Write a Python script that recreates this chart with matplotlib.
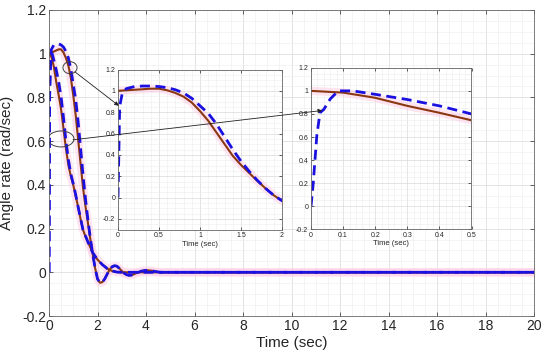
import matplotlib
matplotlib.use('Agg')
import matplotlib.pyplot as plt
from matplotlib.patches import Ellipse, ConnectionPatch
from matplotlib.ticker import MultipleLocator, FuncFormatter

plt.rcParams['font.family'] = ['Liberation Sans', 'DejaVu Sans']

# curve A: fast decay, smooth tail (brown = response, blue dashed = estimate)
t_a = [0, 0.1, 0.2, 0.3, 0.4, 0.5, 0.6, 0.7, 0.8, 0.9, 1.0, 1.1, 1.2, 1.3, 1.4,
       1.5, 1.6, 1.7, 1.8, 1.9, 2.0, 2.2, 2.4, 2.6, 2.8, 3.0, 20]
y_a = [1.0, 0.985, 0.94, 0.87, 0.81, 0.745, 0.655, 0.565, 0.49, 0.44, 0.40, 0.35,
       0.30, 0.245, 0.195, 0.165, 0.14, 0.115, 0.09, 0.072, 0.058, 0.035, 0.017,
       0.006, 0.001, 0.0, 0.0]
t_a_est = [0, 0.007, 0.018, 0.028, 0.04, 0.06, 0.085, 0.13, 0.2, 0.3, 0.4, 0.5,
           0.6, 0.7, 0.8, 0.9, 1.0, 1.1, 1.2, 1.4, 1.6, 1.8, 2.0, 2.2, 2.4, 2.6,
           2.8, 3.0, 20]
y_a_est = [0.0, 0.2, 0.61, 0.81, 0.84, 0.93, 1.0, 1.0, 0.97, 0.925, 0.87, 0.80,
           0.705, 0.6, 0.515, 0.45, 0.405, 0.355, 0.30, 0.195, 0.14, 0.09, 0.058,
           0.035, 0.017, 0.006, 0.001, 0.0, 0.0]

# curve B: delayed decay with oscillation
t_b = [0, 0.1, 0.2, 0.3, 0.4, 0.5, 0.6, 0.7, 0.8, 0.9, 1.0, 1.1, 1.2, 1.3, 1.4,
       1.5, 1.6, 1.7, 1.8, 1.9, 2.0, 2.1, 2.2, 2.3, 2.4, 2.5, 2.6, 2.7, 2.8, 2.9,
       3.0, 3.1, 3.2, 3.3, 3.4, 3.5, 3.6, 3.8, 4.0, 4.2, 4.4, 4.6, 5.0, 20]
y_b = [1.0, 1.005, 1.01, 1.015, 1.02, 1.02, 1.005, 0.98, 0.945, 0.89, 0.81, 0.72,
       0.61, 0.50, 0.39, 0.305, 0.23, 0.155, 0.085, 0.02, -0.03, -0.048, -0.045,
       -0.03, -0.008, 0.012, 0.025, 0.03, 0.028, 0.018, 0.006, -0.004, -0.011,
       -0.014, -0.013, -0.009, -0.004, 0.005, 0.009, 0.008, 0.003, 0.0, 0.0, 0.0]
t_b_est = [0, 0.01, 0.02, 0.05, 0.1, 0.2, 0.3, 0.4, 0.5, 0.6, 0.7, 0.8, 0.9, 1.0,
           1.1, 1.2, 1.3, 1.4, 1.5, 1.6, 1.7, 1.8, 1.9, 2.0, 2.1, 2.2, 2.3, 2.4,
           2.5, 2.6, 2.7, 2.8, 2.9, 3.0, 3.1, 3.2, 3.3, 3.4, 3.5, 3.6, 3.8, 4.0,
           4.2, 4.4, 4.6, 5.0, 20]
y_b_est = [0.0, 0.4, 0.85, 0.97, 1.02, 1.04, 1.045, 1.045, 1.04, 1.03, 1.01, 0.98,
           0.93, 0.86, 0.79, 0.69, 0.57, 0.45, 0.34, 0.245, 0.16, 0.085, 0.02,
           -0.03, -0.048, -0.045, -0.03, -0.008, 0.012, 0.025, 0.03, 0.028, 0.018,
           0.006, -0.004, -0.011, -0.014, -0.013, -0.009, -0.004, 0.005, 0.009,
           0.008, 0.003, 0.0, 0.0, 0.0]

brown = '#8a3810'
blue = '#1a10e0'
pink = '#ffcce6'

fmt = FuncFormatter(lambda v, p: '%g' % round(v, 3))


def style_axes(ax, fs, xmaj, xmin, ymaj, ymin, ticklen):
    ax.xaxis.set_major_locator(MultipleLocator(xmaj))
    ax.xaxis.set_minor_locator(MultipleLocator(xmin))
    ax.yaxis.set_major_locator(MultipleLocator(ymaj))
    ax.yaxis.set_minor_locator(MultipleLocator(ymin))
    ax.xaxis.set_major_formatter(fmt)
    ax.yaxis.set_major_formatter(fmt)
    ax.grid(which='major', color='#d9d9d9', lw=0.5)
    ax.grid(which='minor', color='#ececec', lw=0.4)
    ax.set_axisbelow(True)
    ax.tick_params(which='major', direction='in', top=True, right=True,
                   length=ticklen, width=0.5, labelsize=fs, colors='#262626',
                   pad=2)
    ax.tick_params(which='minor', length=0)
    for s in ax.spines.values():
        s.set_color('#666666')
        s.set_linewidth(0.6)


def draw_curves(ax, curves, lw_b, lw_d, pw):
    for t, y, te, ye in curves:
        ax.plot(t, y, color=pink, lw=pw, alpha=0.5, solid_capstyle='butt')
    for t, y, te, ye in curves:
        ax.plot(t, y, color=brown, lw=lw_b)
    for t, y, te, ye in curves:
        ax.plot(te, ye, color=blue, lw=lw_d, ls='--', dashes=(3.6, 2.0))


curve_a = (t_a, y_a, t_a_est, y_a_est)
curve_b = (t_b, y_b, t_b_est, y_b_est)

fig = plt.figure(figsize=(5.5, 3.59), dpi=100)

# main axes
ax = fig.add_axes([49 / 550, 43 / 359, 485 / 550, 306 / 359])
draw_curves(ax, [curve_a, curve_b], 1.5, 2.0, 6)
ax.set_xlim(0, 20)
ax.set_ylim(-0.2, 1.2)
style_axes(ax, 10, 2, 0.5, 0.2, 0.05, 3)
ax.set_xlabel('Time (sec)', fontsize=11, color='#262626', labelpad=2)
ax.set_ylabel('Angle rate (rad/sec)', fontsize=11, color='#262626', labelpad=6)

# circles marking the zoomed regions
ax.add_patch(Ellipse((0.866, 0.936), 0.58, 0.055, fill=False, ec='#404040', lw=0.7, zorder=5))
ax.add_patch(Ellipse((0.495, 0.61), 1.07, 0.073, fill=False, ec='#404040', lw=0.7, zorder=5))

# inset 1: 0-2 sec
ins1 = fig.add_axes([118 / 550, (359 - 229.5) / 359, 164 / 550, 160 / 359])
draw_curves(ins1, [curve_b], 1.5, 2.0, 6)
ins1.set_xlim(0, 2)
ins1.set_ylim(-0.3, 1.2)
style_axes(ins1, 5, 0.5, 0.1, 0.2, 0.05, 2)
ins1.set_xlabel('Time (sec)', fontsize=5.5, color='#262626', labelpad=1)

# inset 2: 0-0.5 sec
ins2 = fig.add_axes([311 / 550, (359 - 229.3) / 359, 160.5 / 550, 161.5 / 359])
draw_curves(ins2, [curve_a], 1.5, 2.0, 6)
ins2.set_xlim(0, 0.5)
ins2.set_ylim(-0.2, 1.2)
style_axes(ins2, 5, 0.1, 0.02, 0.2, 0.05, 2)
ins2.set_xlabel('Time (sec)', fontsize=5.5, color='#262626', labelpad=1)

# arrows from circles to insets
arr1 = ConnectionPatch(xyA=(1.07, 0.917), coordsA=ax.transData,
                       xyB=(0.01, 0.86), coordsB=ins1.transData,
                       arrowstyle='-|>', mutation_scale=6, lw=0.6, color='#202020')
arr2 = ConnectionPatch(xyA=(0.99, 0.606), coordsA=ax.transData,
                       xyB=(0.035, 0.83), coordsB=ins2.transData,
                       arrowstyle='-|>', mutation_scale=6, lw=0.6, color='#202020')
fig.add_artist(arr1)
fig.add_artist(arr2)

fig.savefig('out.png', dpi=100)
